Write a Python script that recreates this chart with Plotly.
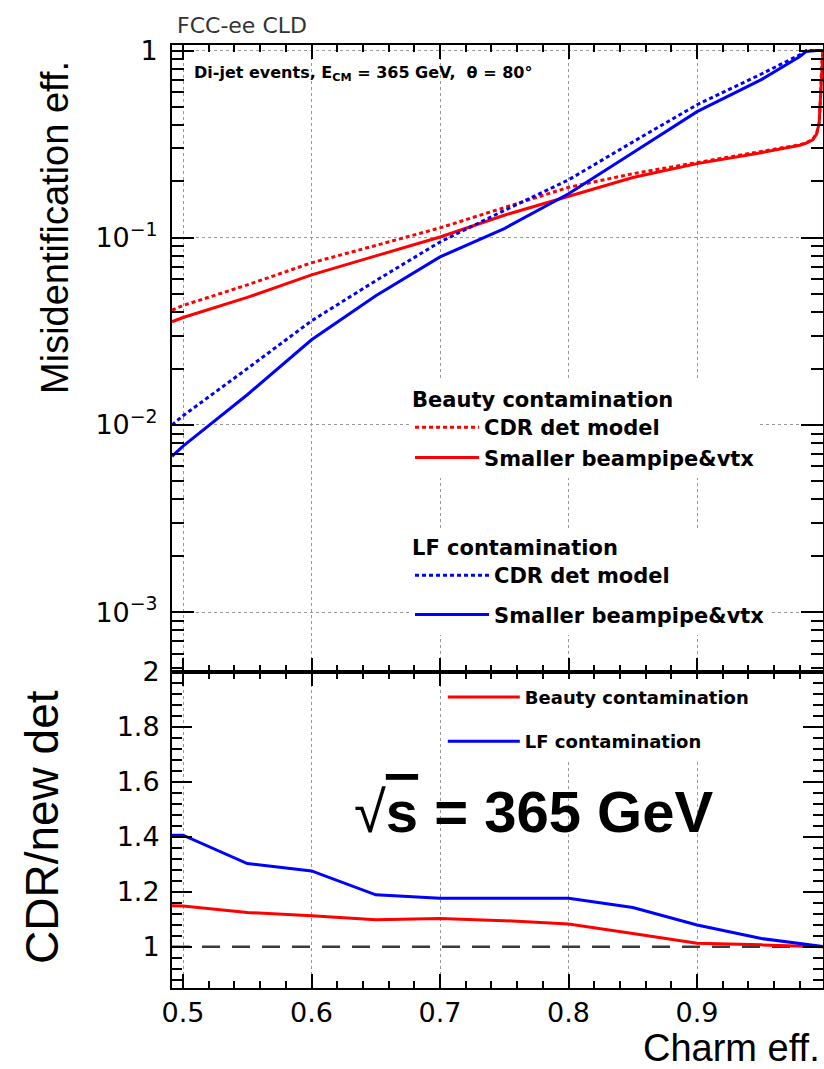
import plotly.graph_objects as go

# ---------------- data ----------------
charm_eff = [0.4914, 0.50, 0.55, 0.60, 0.65, 0.70, 0.75, 0.80, 0.85, 0.90,
             0.95, 0.98, 0.985, 0.99, 0.993, 0.995, 0.996, 0.997, 0.998]

beauty_cdr = [0.041, 0.0435, 0.056, 0.0735, 0.091, 0.113, 0.145, 0.186, 0.220, 0.252,
              0.287, 0.314, 0.322, 0.336, 0.360, 0.41, 0.55, 0.85, 1.0]
beauty_new = [0.0356, 0.0375, 0.048, 0.0634, 0.080, 0.101, 0.132, 0.166, 0.210, 0.249,
              0.285, 0.312, 0.320, 0.334, 0.358, 0.41, 0.55, 0.85, 1.0]
lf_cdr = [0.0100, 0.0112, 0.0200, 0.0360, 0.059, 0.095, 0.140, 0.204, 0.325, 0.514,
          0.75, 0.95, 1.0, 1.0, 1.0, 1.0, 1.0, 1.0, 1.0]
lf_new = [0.0068, 0.0077, 0.0145, 0.0285, 0.049, 0.079, 0.112, 0.172, 0.285, 0.472,
          0.70, 0.93, 0.99, 1.0, 1.0, 1.0, 1.0, 1.0, 1.0]

ratio_x = [0.4914, 0.50, 0.55, 0.60, 0.65, 0.70, 0.75, 0.80, 0.85, 0.90, 0.95, 1.0]
beauty_ratio = [1.149, 1.148, 1.125, 1.113, 1.098, 1.103, 1.095, 1.083, 1.048, 1.013, 1.007, 1.0]
lf_ratio = [1.406, 1.406, 1.303, 1.276, 1.189, 1.177, 1.177, 1.177, 1.143, 1.079, 1.030, 1.0]

ref_x = [0.4914, 0.998]
ref_y = [1.0, 1.0]

x_range = [0.4914, 0.998]
top_ticks = [0.001, 0.01, 0.1, 1]
top_ticktext = ["10<sup>−3</sup>", "10<sup>−2</sup>", "10<sup>−1</sup>", "1"]
bot_ticks = [1, 1.2, 1.4, 1.6, 1.8, 2]
bot_ticktext = ["1", "1.2", "1.4", "1.6", "1.8", "2"]

RED = "#ff0000"
BLUE = "#0000ff"
TICKFONT = dict(family="DejaVu Sans", size=27, color="black")

fig = go.Figure()

fig.add_trace(go.Scatter(x=charm_eff, y=beauty_cdr, mode="lines", name="CDR det model",
                         line=dict(color=RED, width=3, dash="4px,3px"),
                         xaxis="x", yaxis="y", legend="legend", legendgroup="b1"))
fig.add_trace(go.Scatter(x=charm_eff, y=beauty_new, mode="lines", name="Smaller beampipe&vtx",
                         line=dict(color=RED, width=3),
                         xaxis="x", yaxis="y", legend="legend", legendgroup="b2"))
fig.add_trace(go.Scatter(x=charm_eff, y=lf_cdr, mode="lines", name="CDR det model",
                         line=dict(color=BLUE, width=3, dash="4px,3px"),
                         xaxis="x", yaxis="y", legend="legend2", legendgroup="l1"))
fig.add_trace(go.Scatter(x=charm_eff, y=lf_new, mode="lines", name="Smaller beampipe&vtx",
                         line=dict(color=BLUE, width=3),
                         xaxis="x", yaxis="y", legend="legend2", legendgroup="l2"))

fig.add_trace(go.Scatter(x=ref_x, y=ref_y, mode="lines", showlegend=False,
                         line=dict(color="#3a3a3a", width=2.5, dash="18px,12px"),
                         xaxis="x2", yaxis="y2"))
fig.add_trace(go.Scatter(x=ratio_x, y=beauty_ratio, mode="lines", name="Beauty contamination",
                         line=dict(color=RED, width=3),
                         xaxis="x2", yaxis="y2", legend="legend3", legendgroup="r1"))
fig.add_trace(go.Scatter(x=ratio_x, y=lf_ratio, mode="lines", name="LF contamination",
                         line=dict(color=BLUE, width=3),
                         xaxis="x2", yaxis="y2", legend="legend3", legendgroup="r2"))

AX = dict(showline=True, linecolor="black", linewidth=2, mirror="allticks",
          ticks="inside", tickcolor="black", tickwidth=2, zeroline=False,
          automargin=False)

minor_log = [m * 10.0 ** k for k in (-4, -3, -2, -1) for m in range(2, 10)]

top_dom = [0.3351, 1.0]
bot_dom = [0.0, 0.3351]
LEGFONT = dict(family="DejaVu Sans", size=21, color="black", weight="bold")

fig.update_layout(
    width=824, height=1069,
    margin=dict(l=172, r=1, t=45, b=81, autoexpand=False),
    paper_bgcolor="white", plot_bgcolor="white",
    font=dict(family="DejaVu Sans", color="black"),
    xaxis=dict(**AX, domain=[0, 1], anchor="y", range=x_range, tick0=0.5, dtick=0.1,
               ticklen=14, showticklabels=False, matches="x2",
               showgrid=True, gridcolor="#999999", griddash="dot", gridwidth=1,
               minor=dict(dtick=0.02, tick0=0.5, ticklen=7, tickwidth=1.5,
                          tickcolor="black", ticks="inside", showgrid=False)),
    xaxis2=dict(**AX, domain=[0, 1], anchor="y2", range=x_range, tick0=0.5, dtick=0.1,
                ticklen=14, tickfont=TICKFONT, ticklabelstandoff=0,
                showgrid=True, gridcolor="#999999", griddash="dot", gridwidth=1,
                minor=dict(dtick=0.02, tick0=0.5, ticklen=7, tickwidth=1.5,
                           tickcolor="black", ticks="inside", showgrid=False)),
    yaxis=dict(**AX, domain=top_dom, anchor="x", type="log", range=[-3.32, 0.03],
               tickvals=top_ticks, ticktext=top_ticktext, ticklen=22,
               tickfont=TICKFONT, ticklabelstandoff=7,
               showgrid=True, gridcolor="#999999", griddash="dot", gridwidth=1,
               minor=dict(tickvals=minor_log, ticklen=12, tickwidth=1.5,
                          tickcolor="black", ticks="inside", showgrid=False)),
    yaxis2=dict(**AX, domain=bot_dom, anchor="x2", range=[0.85, 2.0],
                tickvals=bot_ticks, ticktext=bot_ticktext, ticklen=20,
                tickfont=TICKFONT, ticklabelstandoff=5, showgrid=False,
                minor=dict(dtick=0.04, tick0=1.0, ticklen=10, tickwidth=1.5,
                           tickcolor="black", ticks="inside", showgrid=False)),
    legend=dict(x=0.3656, y=0.645, xanchor="left", yanchor="top",
                bgcolor="white", borderwidth=0, itemwidth=64, tracegroupgap=0,
                font=LEGFONT, title=dict(text="Beauty contamination", font=LEGFONT)),
    legend2=dict(x=0.3656, y=0.488, xanchor="left", yanchor="top",
                 bgcolor="white", borderwidth=0, itemwidth=74, tracegroupgap=9,
                 font=LEGFONT, title=dict(text="LF contamination", font=LEGFONT)),
    legend3=dict(x=0.416, y=0.328, xanchor="left", yanchor="top",
                 bgcolor="white", borderwidth=0, itemwidth=72, tracegroupgap=18,
                 font=dict(family="DejaVu Sans", size=18, color="black", weight="bold")),
    annotations=[
        dict(text="FCC-ee CLD", xref="paper", yref="paper", x=0.004, y=1.0212,
             xanchor="left", yanchor="middle", showarrow=False,
             font=dict(family="DejaVu Sans", size=22, color="#333333")),
        dict(text="Di-jet events, E<sub>CM</sub> = 365 GeV,  θ = 80°", xref="paper", yref="paper",
             x=0.0307, y=0.9703, xanchor="left", yanchor="middle", showarrow=False,
             font=dict(family="DejaVu Sans", size=16, color="black", weight="bold")),
        dict(text="Misidentification eff.", xref="paper", yref="paper", x=-0.1797, y=0.806,
             xanchor="center", yanchor="middle", textangle=-90, showarrow=False,
             font=dict(family="Liberation Sans", size=38, color="black")),
        dict(text="CDR/new det", xref="paper", yref="paper", x=-0.1997, y=0.1707,
             xanchor="center", yanchor="middle", textangle=-90, showarrow=False,
             font=dict(family="Liberation Sans", size=46, color="black")),
        dict(text="Charm eff.", xref="paper", yref="paper", x=0.9985, y=-0.0636,
             xanchor="right", yanchor="middle", showarrow=False,
             font=dict(family="Liberation Sans", size=38, color="black")),
        dict(text="<span style='font-weight:normal'>√</span><span style='text-decoration:overline'>s</span> = 365 GeV",
             xref="paper", yref="paper", x=0.556, y=0.187,
             xanchor="center", yanchor="middle", showarrow=False,
             font=dict(family="Liberation Sans", size=58, color="black", weight="bold")),
    ],
)

fig.write_html("out.html", config={"displayModeBar": False},
               post_script="document.body.style.margin='0';document.body.style.overflow='hidden';")
